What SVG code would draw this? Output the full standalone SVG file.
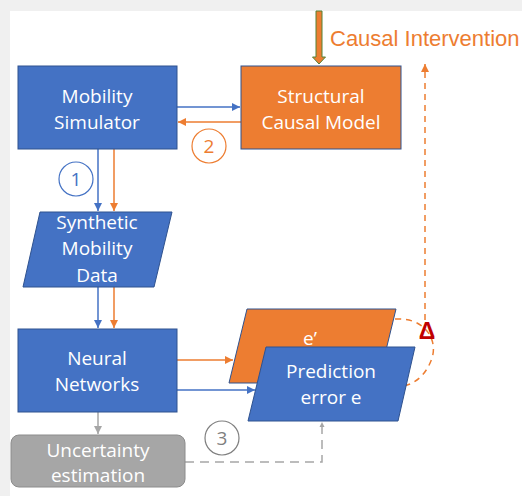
<svg xmlns="http://www.w3.org/2000/svg" width="522" height="496" viewBox="0 0 522 496">
<defs>
<style>
.box{stroke:#2f528f;stroke-width:1}
.blue{fill:#4472c4}
.orange{fill:#ed7d31}
.lbl{font-family:"Open Sans","Noto Sans",sans-serif;font-size:19px;fill:#ffffff;text-anchor:middle}
.num{font-family:"Open Sans","Noto Sans",sans-serif;font-size:19px;text-anchor:middle}
.cb{stroke:#4472c4;stroke-width:1.5;fill:none}
.co{stroke:#ed7d31;stroke-width:1.5;fill:none}
.cg{stroke:#a6a6a6;stroke-width:1.5;fill:none}
</style>
<marker id="ab" viewBox="0 0 10 10" refX="10" refY="5" markerWidth="5.5" markerHeight="5.5" orient="auto" markerUnits="strokeWidth"><path d="M0,0 L10,5 L0,10 z" fill="#4472c4"/></marker>
<marker id="ao" viewBox="0 0 10 10" refX="10" refY="5" markerWidth="5.5" markerHeight="5.5" orient="auto" markerUnits="strokeWidth"><path d="M0,0 L10,5 L0,10 z" fill="#ed7d31"/></marker>
<marker id="ag" viewBox="0 0 10 10" refX="10" refY="5" markerWidth="5.5" markerHeight="5.5" orient="auto" markerUnits="strokeWidth"><path d="M0,0 L10,5 L0,10 z" fill="#a6a6a6"/></marker>
<marker id="ag2" viewBox="0 0 10 10" refX="10" refY="5" markerWidth="3.6" markerHeight="3.6" orient="auto" markerUnits="strokeWidth"><path d="M0,0 L10,5 L0,10 z" fill="#a6a6a6"/></marker>
</defs>
<rect x="0" y="0" width="522" height="496" fill="#f0f0f0"/>
<rect x="10" y="11" width="512" height="485" fill="#ffffff"/>

<g id="connectors">
<line class="cb" x1="177" y1="107" x2="240" y2="107" marker-end="url(#ab)"/>
<line class="co" x1="241" y1="122" x2="178" y2="122" marker-end="url(#ao)"/>
<line class="cb" x1="98" y1="149" x2="98" y2="211" marker-end="url(#ab)"/>
<line class="co" x1="114" y1="149" x2="114" y2="211" marker-end="url(#ao)"/>
<line class="cb" x1="98" y1="287" x2="98" y2="328" marker-end="url(#ab)"/>
<line class="co" x1="114" y1="287" x2="114" y2="328" marker-end="url(#ao)"/>
<line class="co" x1="177" y1="360" x2="233" y2="360" marker-end="url(#ao)"/>
<line class="cb" x1="177" y1="390" x2="255" y2="390" marker-end="url(#ab)"/>
<line class="cg" x1="98" y1="412" x2="98" y2="434" marker-end="url(#ag)"/>
<path class="cg" d="M185,462 L322,462 L322,422" stroke-width="2.5" stroke-dasharray="9,6" marker-end="url(#ag2)"/>
<path class="co" d="M395,319 C425,317 438,340 432,358 C427,373 417,383 404,386" stroke-dasharray="6,5"/>
<line class="co" x1="425" y1="320" x2="425" y2="64" stroke-dasharray="6,5" marker-end="url(#ao)"/>
<path d="M316,11 L322,11 L322,57 L325.5,57 L319,64 L312.5,57 L316,57 z" fill="#ed7d31" stroke="#548235" stroke-width="1"/>
</g>

<g id="mobility-simulator">
<rect class="box blue" x="18" y="66" width="159" height="83"/>
<text class="lbl" x="97" y="103">Mobility</text>
<text class="lbl" x="97" y="129">Simulator</text>
</g>

<g id="structural-causal-model">
<rect class="box orange" x="241" y="66" width="160" height="83"/>
<text class="lbl" x="321" y="103">Structural</text>
<text class="lbl" x="321" y="129">Causal Model</text>
</g>

<g id="causal-intervention">
<text x="330" y="46" font-family="'Liberation Sans',Arial,sans-serif" font-size="22" fill="#ed7d31">Causal Intervention</text>
</g>

<g id="step-1">
<circle cx="76" cy="179" r="17" fill="none" stroke="#4472c4" stroke-width="1.2"/>
<text class="num" x="76" y="186" fill="#4472c4">1</text>
</g>

<g id="step-2">
<circle cx="209" cy="146" r="17" fill="none" stroke="#ed7d31" stroke-width="1.2"/>
<text class="num" x="209" y="153" fill="#ed7d31">2</text>
</g>

<g id="synthetic-data">
<path class="box blue" d="M40,212 L172,212 L154,287 L23,287 z"/>
<text class="lbl" x="97" y="229">Synthetic</text>
<text class="lbl" x="97" y="255">Mobility</text>
<text class="lbl" x="97" y="282">Data</text>
</g>

<g id="neural-networks">
<rect class="box blue" x="18" y="329" width="159" height="83"/>
<text class="lbl" x="97" y="365">Neural</text>
<text class="lbl" x="97" y="391">Networks</text>
</g>

<g id="e-prime">
<path class="box orange" d="M247,309 L396,309 L378,383 L229,383 z"/>
<text class="lbl" x="310" y="345">e’</text>
</g>

<g id="prediction-error">
<path class="box blue" d="M266,347 L415,347 L398,421 L248,421 z"/>
<text class="lbl" x="331" y="378">Prediction</text>
<text class="lbl" x="331" y="404">error e</text>
</g>

<g id="delta">
<text x="427" y="339" font-family="'Liberation Sans',Arial,sans-serif" font-size="23" font-weight="bold" fill="#c00000" text-anchor="middle">Δ</text>
</g>

<g id="uncertainty">
<rect x="11" y="435" width="174" height="52" rx="8" fill="#a6a6a6" stroke="#8c8c8c" stroke-width="1"/>
<text class="lbl" x="98" y="457" fill="#f2f2f2">Uncertainty</text>
<text class="lbl" x="98" y="482" fill="#f2f2f2">estimation</text>
</g>

<g id="step-3">
<circle cx="222" cy="438" r="17" fill="#ffffff" stroke="#7f7f7f" stroke-width="1.2"/>
<text class="num" x="222" y="445" fill="#7f7f7f">3</text>
</g>
</svg>
